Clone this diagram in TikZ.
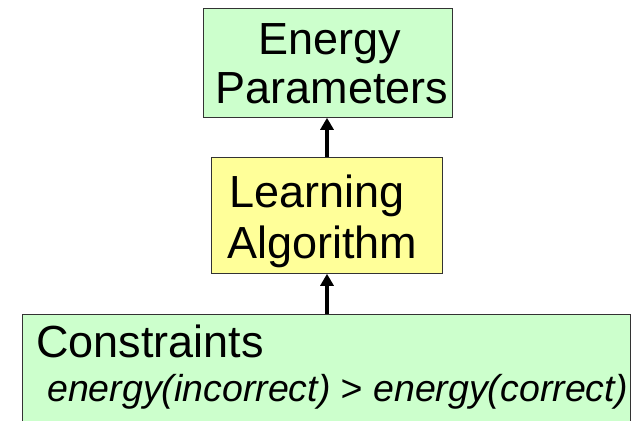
\documentclass[tikz,border=0pt]{standalone}
\usepackage{fontspec}
\setmainfont{Liberation Sans}
\usetikzlibrary{arrows.meta}
\definecolor{boxgreen}{HTML}{CCFFCC}
\definecolor{boxyellow}{HTML}{FFFF99}
\begin{document}
\begin{tikzpicture}[x=1pt,y=-1pt,
  box/.style={draw=black!80, line width=0.8pt, inner sep=0pt, anchor=north west},
  bigtxt/.style={inner sep=0pt, font=\fontsize{45}{48}\selectfont},
  ittxt/.style={inner sep=0pt, font=\fontsize{37.5}{40}\selectfont\itshape},
  arr/.style={line width=3.8pt, -{Triangle[width=13pt,length=12pt]}}]
\useasboundingbox (0,0) rectangle (636,420);
\clip (0,0) rectangle (636,420);
\node[box, fill=boxgreen, minimum width=249pt, minimum height=109pt] (ep) at (203,8) {};
\node[box, fill=boxyellow, minimum width=231pt, minimum height=116pt] (la) at (211,157) {};
\node[box, fill=boxgreen, minimum width=608pt, minimum height=130pt] (co) at (22,314) {};
\node[bigtxt, anchor=base] (t1) at (330,55) {Energy};
\node[bigtxt, anchor=base] (t2) at (332,103) {Parameters};
\node[bigtxt, anchor=base west] (t3) at (229,207) {Learning};
\node[bigtxt, anchor=base west] (t4) at (227,258) {Algorithm};
\node[bigtxt, anchor=base west] (t5) at (36,357) {Constraints};
\node[ittxt, anchor=base west] (t6) at (47,401) {energy(incorrect) > energy(correct)};
\coordinate (a1s) at (la.north -| 327,0);
\coordinate (a1e) at (ep.south -| 327,0);
\coordinate (a2s) at (co.north -| 327,0);
\coordinate (a2e) at (la.south -| 327,0);
\draw[arr] (a1s) -- (a1e);
\draw[arr] (a2s) -- (a2e);
\end{tikzpicture}
\end{document}
